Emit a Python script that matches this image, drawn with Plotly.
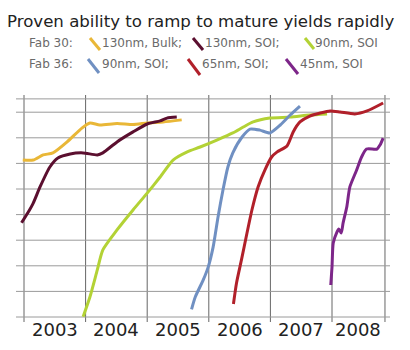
import plotly.graph_objects as go

# ---------------- data ----------------
years = [2003, 2004, 2005, 2006, 2007, 2008]
year_end = 2008.86
year_labels = ["2003", "2004", "2005", "2006", "2007", "2008"]

bulk130_x = [2002.98, 2003.15, 2003.31, 2003.47, 2003.70, 2003.94, 2004.07, 2004.23, 2004.51, 2004.77, 2005.00, 2005.26, 2005.56]
bulk130_y = [6.13, 6.13, 6.33, 6.41, 6.84, 7.38, 7.58, 7.50, 7.56, 7.52, 7.58, 7.62, 7.70]

soi130_x = [2002.96, 2003.06, 2003.15, 2003.26, 2003.42, 2003.55, 2003.75, 2003.96, 2004.19, 2004.28, 2004.51, 2004.77, 2005.00, 2005.21, 2005.32, 2005.48]
soi130_y = [3.68, 4.06, 4.45, 5.08, 5.86, 6.21, 6.37, 6.41, 6.33, 6.41, 6.84, 7.23, 7.54, 7.66, 7.77, 7.81]

f30_90_x = [2003.96, 2004.07, 2004.19, 2004.28, 2004.51, 2004.77, 2005.00, 2005.21, 2005.42, 2005.65, 2005.86, 2006.13, 2006.39, 2006.56, 2006.72, 2006.99, 2007.32, 2007.64, 2007.92]
f30_90_y = [0.01, 0.78, 1.84, 2.62, 3.40, 4.18, 4.84, 5.47, 6.13, 6.45, 6.64, 6.91, 7.19, 7.42, 7.62, 7.77, 7.81, 7.89, 7.93]

f36_90_x = [2005.72, 2005.78, 2005.91, 2005.99, 2006.07, 2006.15, 2006.23, 2006.31, 2006.39, 2006.54, 2006.67, 2006.83, 2006.99, 2007.16, 2007.32, 2007.48]
f36_90_y = [0.30, 0.78, 1.45, 1.95, 2.73, 3.91, 4.96, 5.86, 6.41, 7.03, 7.34, 7.30, 7.19, 7.50, 7.89, 8.24]

f36_65_x = [2006.40, 2006.45, 2006.53, 2006.62, 2006.70, 2006.80, 2006.91, 2007.02, 2007.11, 2007.27, 2007.37, 2007.48, 2007.64, 2007.81, 2007.97, 2008.13, 2008.37, 2008.57, 2008.83]
f36_65_y = [0.51, 1.33, 2.23, 3.28, 4.18, 5.08, 5.74, 6.25, 6.45, 6.68, 7.23, 7.62, 7.85, 7.97, 8.05, 8.01, 7.93, 8.05, 8.36]

f36_45_x = [2007.98, 2008.00, 2008.02, 2008.08, 2008.11, 2008.15, 2008.18, 2008.24, 2008.29, 2008.40, 2008.48, 2008.56, 2008.73, 2008.78, 2008.83]
f36_45_y = [1.25, 1.95, 2.89, 3.32, 3.44, 3.28, 3.67, 4.30, 5.08, 5.74, 6.25, 6.56, 6.56, 6.72, 6.99]

y_grid = [0, 1, 2, 3, 4, 5, 6, 7, 8, 8.52]

# ---------------- layout geometry ----------------
W, H = 410, 350
L, R, T, B = 16, 20, 95, 28
PW, PH = W - L - R, H - T - B

def px(x):
    return (x - L) / PW

def py(y):
    return (H - B - y) / PH

FONT = "DejaVu Sans"

series = [
    ("130nm, Bulk", bulk130_x, bulk130_y, "#E9B737"),
    ("130nm, SOI", soi130_x, soi130_y, "#5B0F2F"),
    ("90nm, SOI (Fab 30)", f30_90_x, f30_90_y, "#B3D235"),
    ("90nm, SOI (Fab 36)", f36_90_x, f36_90_y, "#7090C2"),
    ("65nm, SOI", f36_65_x, f36_65_y, "#B1202A"),
    ("45nm, SOI", f36_45_x, f36_45_y, "#7D2689"),
]

fig = go.Figure()
for name, xs, ys, c in series:
    fig.add_trace(go.Scatter(x=xs, y=ys, mode="lines", name=name,
                             line=dict(color=c, width=3, shape="spline", smoothing=0.6),
                             showlegend=False))

shapes = []
# vertical grid lines
for v in years + [year_end]:
    shapes.append(dict(type="line", xref="x", yref="paper", x0=v, x1=v, y0=0, y1=1,
                       line=dict(color="#666666", width=1), layer="below"))
# horizontal grid lines
for g in y_grid:
    shapes.append(dict(type="line", xref="paper", yref="y", x0=0, x1=1, y0=g, y1=g,
                       line=dict(color="#9a9a9a", width=1), layer="below"))

annotations = []
# title
annotations.append(dict(text="Proven ability to ramp to mature yields rapidly", xref="paper", yref="paper",
                        x=px(200), y=py(22), xanchor="center", yanchor="middle", showarrow=False,
                        font=dict(family=FONT, size=16.6, color="#222222")))
# year labels
bounds = years + [year_end]
for i, lab in enumerate(year_labels):
    mid = (bounds[i] + bounds[i + 1]) / 2
    annotations.append(dict(text=lab, xref="x", yref="paper", x=mid, y=py(329),
                            xanchor="center", yanchor="middle", showarrow=False,
                            font=dict(family=FONT, size=18, color="#222222")))

# legend (manual)
leg_font = dict(family=FONT, size=12, color="#6a6a6a")
row1_y, row2_y = 43, 64
annotations.append(dict(text="Fab 30:", xref="paper", yref="paper", x=px(27), y=py(row1_y),
                        xanchor="left", yanchor="middle", showarrow=False, font=leg_font))
annotations.append(dict(text="Fab 36:", xref="paper", yref="paper", x=px(27), y=py(row2_y),
                        xanchor="left", yanchor="middle", showarrow=False, font=leg_font))
legend_items = [
    # (mark x0, mark y0, mark x1, mark y1, text x, row y, label, color)
    (90, 38, 100, 50, 100, row1_y, "130nm, Bulk;", series[0][3]),
    (193, 38, 203, 50, 203, row1_y, "130nm, SOI;", series[1][3]),
    (305, 38, 314, 49, 313, row1_y, "90nm, SOI", series[2][3]),
    (88, 59, 99, 73, 100, row2_y, "90nm, SOI;", series[3][3]),
    (188, 59, 200, 75, 200, row2_y, "65nm, SOI;", series[4][3]),
    (286, 59, 298, 74, 298, row2_y, "45nm, SOI", series[5][3]),
]
for x0, y0, x1, y1, tx, ry, lab, c in legend_items:
    shapes.append(dict(type="line", xref="paper", yref="paper", x0=px(x0), y0=py(y0), x1=px(x1), y1=py(y1),
                       line=dict(color=c, width=3)))
    annotations.append(dict(text=lab, xref="paper", yref="paper", x=px(tx), y=py(ry),
                            xanchor="left", yanchor="middle", showarrow=False, font=leg_font))

fig.update_layout(
    width=W, height=H,
    margin=dict(l=L, r=R, t=T, b=B, pad=0),
    paper_bgcolor="white", plot_bgcolor="white",
    xaxis=dict(range=[2003 - 8 / 61.6, 2003 + (W - R - 24) / 61.6], showgrid=False, zeroline=False,
               showticklabels=False, ticks="", showline=False, fixedrange=True),
    yaxis=dict(range=[-5 / 25.6, 222 / 25.6], showgrid=False, zeroline=False,
               showticklabels=False, ticks="", showline=False, fixedrange=True),
    shapes=shapes,
    annotations=annotations,
)

fig.write_html("out.html", config={"displayModeBar": False})
